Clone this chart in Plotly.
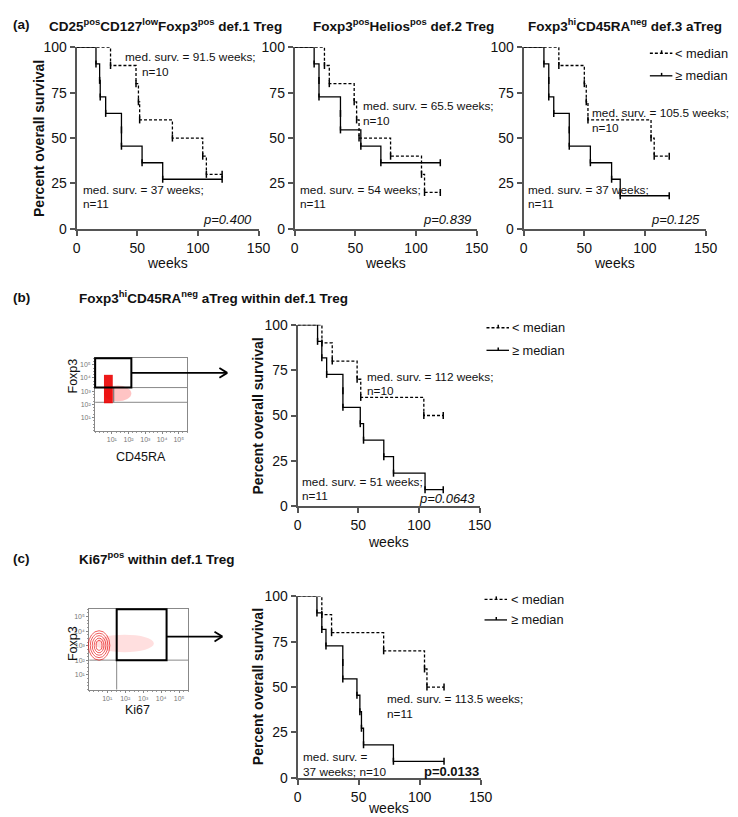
import plotly.graph_objects as go

W, H = 738, 817
FONT = "Liberation Sans, Arial, sans-serif"

def px(x): return x / W
def py(y): return 1 - y / H

# ---------------- data (weeks, percent survival) ----------------
a1_low_t = [0, 28, 49, 51, 52, 79, 104, 107, 120]
a1_low_s = [100, 90, 80, 70, 60, 50, 40, 30, 30]
a1_high_t = [0, 16, 19, 19.5, 24, 37, 37, 54, 71, 120]
a1_high_s = [100, 90.9, 81.8, 72.7, 63.6, 54.5, 45.5, 36.4, 27.3, 27.3]

a2_low_t = [0, 24.5, 28.5, 49, 51, 53, 79, 104.5, 107, 120]
a2_low_s = [100, 90, 80, 70, 60, 50, 40, 30, 20, 20]
a2_high_t = [0, 16, 20, 20, 37.7, 37.7, 54.5, 71, 120]
a2_high_s = [100, 90.9, 81.8, 72.7, 63.6, 54.5, 45.5, 36.4, 36.4]

a3_low_t = [0, 29, 50, 51.6, 53, 105, 107.6, 120]
a3_low_s = [100, 90, 80, 70, 60, 50, 40, 40]
a3_high_t = [0, 16.7, 20.7, 20.7, 24.8, 37.6, 37.6, 55, 72.5, 79.6, 120]
a3_high_s = [100, 90.9, 81.8, 72.7, 63.6, 54.5, 45.5, 36.4, 27.3, 18.2, 18.2]

b_low_t = [0, 20, 28.5, 49, 52, 104, 120]
b_low_s = [100, 90, 80, 70, 60, 50, 50]
b_high_t = [0, 16.4, 19.9, 23.9, 37.3, 37.3, 51.6, 54.3, 71, 79, 105, 120]
b_high_s = [100, 90.9, 81.8, 72.7, 63.6, 54.5, 45.5, 36.4, 27.3, 18.2, 9.1, 9.1]

c_low_t = [0, 19.8, 27.8, 70.5, 104, 106, 120]
c_low_s = [100, 90, 80, 70, 60, 50, 50]
c_high_t = [0, 15.8, 19.8, 23.2, 37, 37, 48.6, 51, 52.3, 54, 78.5, 120]
c_high_s = [100, 90.9, 81.8, 72.7, 63.6, 54.5, 45.5, 36.4, 27.3, 18.2, 9.1, 9.1]

x_ticks = [0, 50, 100, 150]
y_ticks = [0, 25, 50, 75, 100]

panels = [
    ("a1", (66, 252), (217, 32), (a1_low_t, a1_low_s), (a1_high_t, a1_high_s)),
    ("a2", (289, 475), (217, 32), (a2_low_t, a2_low_s), (a2_high_t, a2_high_s)),
    ("a3", (523, 709), (217, 32), (a3_low_t, a3_low_s), (a3_high_t, a3_high_s)),
    ("b", (292, 478), (500, 315), (b_low_t, b_low_s), (b_high_t, b_high_s)),
    ("c", (292, 479), (777, 592), (c_low_t, c_low_s), (c_high_t, c_high_s)),
]

fig = go.Figure()
layout = dict(
    width=W, height=H, margin=dict(l=0, r=0, t=0, b=0),
    paper_bgcolor="white", plot_bgcolor="white", showlegend=False,
    font=dict(family=FONT, color="black", size=12),
)

AXC = "#555555"
for i, (name, xd, yd, low, high) in enumerate(panels):
    k = "" if i == 0 else str(i + 1)
    xa, ya = "x" + k, "y" + k
    layout["xaxis" + k] = dict(
        domain=[px(xd[0]), px(xd[1])], range=[0, 150], anchor=ya,
        tickvals=x_ticks, ticks="outside", ticklen=5, tickwidth=1.5, tickcolor=AXC,
        showline=True, linecolor=AXC, linewidth=2, showgrid=False, zeroline=False,
        tickfont=dict(size=14, family=FONT, color="#111"),
    )
    layout["yaxis" + k] = dict(
        domain=[py(yd[0]), py(yd[1])], range=[0, 100], anchor=xa,
        tickvals=y_ticks, ticks="outside", ticklen=5, tickwidth=1.5, tickcolor=AXC,
        showline=True, linecolor=AXC, linewidth=2, showgrid=False, zeroline=False,
        tickfont=dict(size=14, family=FONT, color="#111"),
    )
    for (t, s), dash in ((low, "3px,2px"), (high, "solid")):
        fig.add_trace(go.Scatter(x=t, y=s, mode="lines", line_shape="hv",
                                 line=dict(color="black", width=1.3, dash=dash),
                                 xaxis=xa, yaxis=ya, cliponaxis=False, hoverinfo="skip"))
        fig.add_trace(go.Scatter(x=t[1:], y=s[1:], mode="markers",
                                 marker=dict(symbol="line-ns-open", size=5, color="black",
                                             line=dict(color="black", width=1.5)),
                                 xaxis=xa, yaxis=ya, cliponaxis=False, hoverinfo="skip"))

# ---------------- flow cytometry mini plots ----------------
flow_b = dict(x=(85, 179), y=(423, 349))
flow_c = dict(x=(79, 180), y=(687, 605))
flow_ticks = [1, 2, 3, 4, 5]
flow_labels = ["10¹", "10²", "10³", "10⁴", "10⁵"]
for j, fl in ((6, flow_b), (7, flow_c)):
    common = dict(range=[0, 5.5], tickvals=flow_ticks, ticktext=flow_labels,
                  ticks="outside", ticklen=2, tickcolor="#888",
                  tickfont=dict(size=7, color="#777"), showline=True, mirror=True,
                  linecolor="#888", linewidth=1, showgrid=False, zeroline=False,
                  minor=dict(ticks="outside", ticklen=1.5, dtick=0.25, tickcolor="#999"))
    layout["xaxis%d" % j] = dict(domain=[px(fl["x"][0]), px(fl["x"][1])],
                                 anchor="y%d" % j, **common)
    layout["yaxis%d" % j] = dict(domain=[py(fl["y"][0]), py(fl["y"][1])],
                                 anchor="x%d" % j, **common)
    fig.add_trace(go.Scatter(x=[None], y=[None], mode="markers", xaxis="x%d" % j,
                             yaxis="y%d" % j, hoverinfo="skip"))

shapes = []
def pline(x0, y0, x1, y1, color="black", width=1.5, dash="solid"):
    shapes.append(dict(type="line", xref="paper", yref="paper", x0=px(x0), y0=py(y0),
                       x1=px(x1), y1=py(y1), line=dict(color=color, width=width, dash=dash)))
def prect(x0, y0, x1, y1, color="black", width=2, fill=None, opacity=1):
    d = dict(type="rect", xref="paper", yref="paper", x0=px(x0), y0=py(y0),
             x1=px(x1), y1=py(y1), line=dict(color=color, width=width), opacity=opacity)
    if fill:
        d["fillcolor"] = fill
    shapes.append(d)
def pell(cx, cy, rx, ry, color="red", width=0.8, fill=None, opacity=1):
    d = dict(type="circle", xref="paper", yref="paper", x0=px(cx - rx), y0=py(cy + ry),
             x1=px(cx + rx), y1=py(cy - ry), line=dict(color=color, width=width), opacity=opacity)
    if fill:
        d["fillcolor"] = fill
    shapes.append(d)

# (b) flow: quadrant lines, red cluster, gate, arrow
pline(85, 379, 179, 379, "#888", 1)
pline(85, 394, 179, 394, "#888", 1)
pell(108, 385, 14, 8, color="rgba(0,0,0,0)", width=0, fill="rgba(255,60,60,0.3)")
prect(94, 366, 103, 395, color="rgba(0,0,0,0)", width=0, fill="rgba(235,0,0,0.9)")
pline(104, 379, 104, 394, "#666", 1)
prect(85, 349, 122, 379, "black", 2)
pline(122, 364, 220, 364, "black", 1.8)
pline(220, 364, 212, 359, "black", 1.8)
pline(220, 364, 212, 369, "black", 1.8)

# (c) flow: quadrant lines, contours, gate, arrow
pline(79, 657, 180, 657, "#888", 1)
pline(107, 605, 107, 687, "#888", 1)
pell(115, 640, 30, 9, color="rgba(0,0,0,0)", width=0, fill="rgba(255,80,80,0.18)")
for rx, ry in ((11, 15), (9, 12.5), (7, 10), (5, 7.5), (3, 5)):
    pell(89, 642, rx, ry, "rgba(230,0,0,0.8)", 0.8)
prect(107, 605, 158, 657, "black", 2)
pline(158, 633, 215, 633, "black", 1.8)
pline(215, 633, 207, 628, "black", 1.8)
pline(215, 633, 207, 638, "black", 1.8)

# legends (drawn as line samples)
for (lx, ly1, ly2) in ((652, 38, 61), (485, 318, 341), (483, 595, 616)):
    pline(lx, ly1, lx + 23, ly1, "black", 1.3, "3px,2px")
    pline(lx + 12, ly1 - 3, lx + 12, ly1, "black", 1.5)
    pline(lx, ly2, lx + 23, ly2, "black", 1.3)
    pline(lx + 12, ly2 - 3, lx + 12, ly2, "black", 1.5)

layout["shapes"] = shapes

ann = []
def txt(x, y, s, size=11.8, xanchor="left", bold=False, angle=0, yanchor="middle"):
    if bold:
        s = "<b>" + s + "</b>"
    ann.append(dict(x=px(x), y=py(y), xref="paper", yref="paper", text=s, showarrow=False,
                    xanchor=xanchor, yanchor=yanchor, textangle=angle, borderpad=0,
                    font=dict(size=size, family=FONT, color="#111")))

# panel labels and titles
TS = 13.5
txt(0, 9, "(a)", TS, bold=True)
txt(157, 9, "CD25<sup>pos</sup>CD127<sup>low</sup>Foxp3<sup>pos</sup> def.1 Treg", TS, "center", True)
txt(400, 9, "Foxp3<sup>pos</sup>Helios<sup>pos</sup> def.2 Treg", TS, "center", True)
txt(627, 9, "Foxp3<sup>hi</sup>CD45RA<sup>neg</sup> def.3 aTreg", TS, "center", True)
txt(0, 287, "(b)", TS, bold=True)
txt(67, 287, "Foxp3<sup>hi</sup>CD45RA<sup>neg</sup> aTreg within def.1 Treg", TS, "left", True)
txt(0, 553, "(c)", TS, bold=True)
txt(67, 553, "Ki67<sup>pos</sup> within def.1 Treg", TS, "left", True)

# axis titles
txt(27, 125, "Percent overall survival", 14, "center", True, -90)
txt(251, 408, "Percent overall survival", 14, "center", True, -90)
txt(251, 684, "Percent overall survival", 14, "center", True, -90)
for cx, cy in ((159, 252), (382, 252), (616, 252), (385, 537), (385, 808)):
    txt(cx, cy, "weeks", 14, "center")

# in-plot annotations
txt(114, 42, "med. surv. = 91.5 weeks;")
txt(132, 57, "n=10")
txt(72, 177, "med. surv. = 37 weeks;")
txt(72, 192, "n=11")
txt(246, 208, "<i>p=0.400</i>", 13, "right")

txt(358, 92, "med. surv. = 65.5 weeks;")
txt(358, 107, "n=10")
txt(293, 177, "med. surv. = 54 weeks;")
txt(293, 192, "n=11")
txt(470, 208, "<i>p=0.839</i>", 13, "right")

txt(592, 99, "med. surv. = 105.5 weeks;")
txt(592, 114, "n=10")
txt(526, 177, "med. surv. = 37 weeks;")
txt(526, 192, "n=11")
txt(704, 208, "<i>p=0.125</i>", 13, "right")

txt(362, 368, "med. surv. = 112 weeks;")
txt(362, 382, "n=10")
txt(295, 475, "med. surv. = 51 weeks;")
txt(295, 490, "n=11")
txt(474, 492, "<i>p=0.0643</i>", 13, "right")

txt(382, 697, "med. surv. = 113.5 weeks;")
txt(382, 712, "n=11")
txt(296, 756, "med. surv. =")
txt(296, 771, "37 weeks; n=10")
txt(478, 771, "p=0.0133", 13, "right", True)

# legend texts
for lx, ly1, ly2 in ((677, 38, 61), (510, 318, 341), (509, 595, 616)):
    txt(lx, ly1, "&lt; median", 12.8)
    txt(lx, ly2, "≥ median", 12.8)

# flow labels
txt(62, 367, "Foxp3", 12.5, "center", angle=-90)
txt(132, 450, "CD45RA", 12.5, "center")
txt(63, 640, "Foxp3", 12.5, "center", angle=-90)
txt(128, 708, "Ki67", 12.5, "center")

layout["annotations"] = ann
fig.update_layout(**layout)
fig.write_html("out.html")
